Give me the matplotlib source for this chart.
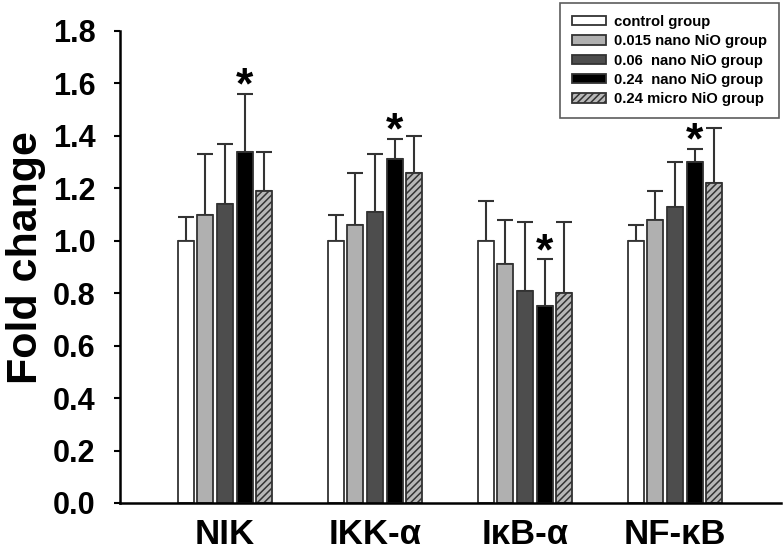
import numpy as np
import matplotlib
matplotlib.use("Agg")
import matplotlib.pyplot as plt

plt.rcParams["font.family"] = ["Liberation Sans", "DejaVu Sans"]
plt.rcParams["font.weight"] = "bold"
plt.rcParams["hatch.linewidth"] = 1.1
plt.rcParams["hatch.color"] = "#333333"

# data
genes = ["NIK", "IKK-α", "IκB-α", "NF-κB"]
groups = ["control group", "0.015 nano NiO group", "0.06  nano NiO group",
          "0.24  nano NiO group", "0.24 micro NiO group"]
control = [1.00, 1.00, 1.00, 1.00]
nano_015 = [1.10, 1.06, 0.91, 1.08]
nano_06 = [1.14, 1.11, 0.81, 1.13]
nano_24 = [1.34, 1.31, 0.75, 1.30]
micro_24 = [1.19, 1.26, 0.80, 1.22]
err_control = [0.09, 0.10, 0.15, 0.06]
err_015 = [0.23, 0.20, 0.17, 0.11]
err_06 = [0.23, 0.22, 0.26, 0.17]
err_24 = [0.22, 0.08, 0.18, 0.05]
err_micro = [0.15, 0.14, 0.27, 0.21]
signif = [True, True, True, True]  # * on 0.24 nano group

means = [control, nano_015, nano_06, nano_24, micro_24]
errs = [err_control, err_015, err_06, err_24, err_micro]
faces = ["white", "#b0b0b0", "#4d4d4d", "black", "#b8b8b8"]
hatches = [None, None, None, None, "/////"]

W, H = 783, 553
fig = plt.figure(figsize=(W / 100, H / 100), dpi=100)
# axes box in pixels: x 120..781, y(0.0)=503, y(1.8)=31
ax = fig.add_axes([120 / W, (H - 503) / H, (781 - 120) / W, (503 - 31) / H])

x = np.arange(len(genes))
step = 0.131
width = 0.107
for j in range(5):
    pos = x + (j - 2) * step
    ax.bar(pos, means[j], width, color=faces[j], edgecolor="#333333",
           linewidth=1.3, hatch=hatches[j], label=groups[j], zorder=2)
    ax.errorbar(pos, means[j], yerr=[np.zeros(4), errs[j]], fmt="none",
                ecolor="#333333", elinewidth=1.5, capsize=5.5, capthick=1.5, zorder=1)

for i in range(len(genes)):
    if signif[i]:
        top = nano_24[i] + err_24[i]
        ax.annotate("*", (x[i] + step, top), xytext=(0, -10), textcoords="offset points",
                    ha="center", va="bottom", fontsize=32, fontweight="bold")

ax.set_xlim(-0.70, 3.707)
ax.set_ylim(0, 1.8)
yt = np.arange(0, 1.81, 0.2)
ax.set_yticks(yt)
ax.set_yticklabels([f"{v:.1f}" for v in yt], fontsize=22, fontweight="bold")
ax.set_xticks(x)
ax.set_xticklabels(genes, fontsize=25, fontweight="bold")
ax.tick_params(axis="x", length=0, pad=11)
ax.tick_params(axis="y", length=4.5, width=1.5, pad=13)
ax.spines["top"].set_visible(False)
ax.spines["right"].set_visible(False)
ax.spines["left"].set_linewidth(1.8)
ax.spines["bottom"].set_linewidth(1.8)
fig.text(26 / W, 1 - 258 / H, "Fold change", rotation=90, ha="center", va="center",
         fontsize=31, fontweight="bold")

leg = ax.legend(loc="upper right", bbox_to_anchor=(779 / W, 1 - 3 / H),
                bbox_transform=fig.transFigure, borderaxespad=0, fontsize=10.7,
                frameon=True, fancybox=False, edgecolor="#333333",
                handlelength=2.3, handleheight=0.6, handletextpad=0.55,
                labelspacing=0.36, borderpad=0.8)
leg.get_frame().set_linewidth(1.2)

fig.savefig("out.png", dpi=100)
